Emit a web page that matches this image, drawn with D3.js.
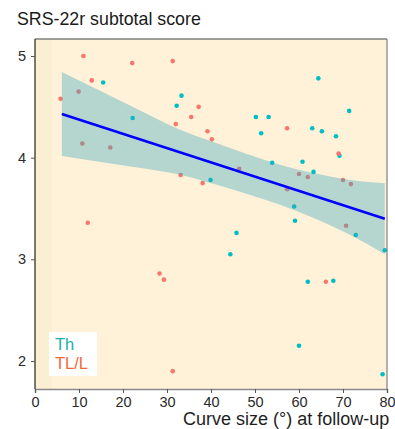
<!DOCTYPE html>
<html>
<head>
<meta charset="utf-8">
<script src="https://cdn.jsdelivr.net/npm/d3@7"></script>
<style>
  html, body { margin: 0; padding: 0; background: #ffffff; }
  svg { display: block; }
  text { font-family: "Liberation Sans", Arial, Helvetica, sans-serif; }
</style>
</head>
<body>
<svg id="chart" width="395" height="429"></svg>
<script>
// ---- data ----
const thX = [15.5, 22.2, 33.3, 32.2, 50.2, 53.1, 51.4, 71.4, 64.4, 63.0, 65.2, 68.4, 69.2, 53.9,
             60.8, 63.3, 39.9, 58.9, 59.1, 72.9, 79.5, 45.8, 44.4, 62.0, 67.8, 60.0, 79.0];
const thY = [4.74, 4.39, 4.61, 4.51, 4.40, 4.40, 4.24, 4.46, 4.78, 4.29, 4.26, 4.21, 4.02, 3.95,
             3.96, 3.86, 3.78, 3.52, 3.38, 3.24, 3.09, 3.26, 3.05, 2.78, 2.79, 2.15, 1.87];
const tlX = [11.0, 22.1, 12.9, 9.9, 5.8, 10.75, 17.1, 31.3, 32.0, 37.2, 35.5, 39.2, 40.2, 46.4, 33.1,
             38.1, 57.3, 69.0, 60.0, 62.0, 70.0, 71.8, 57.3, 70.7, 28.3, 29.3, 66.1, 12.0, 31.3];
const tlY = [5.00, 4.93, 4.76, 4.65, 4.58, 4.14, 4.10, 4.95, 4.33, 4.50, 4.40, 4.26, 4.18, 3.89, 3.83,
             3.75, 4.29, 4.04, 3.84, 3.81, 3.78, 3.74, 3.69, 3.33, 2.86, 2.80, 2.78, 3.36, 1.90];
const fitX = [6.1, 79.5];
const fitY = [4.43, 3.40];
const bandX    = [6.1, 21.6, 33.0, 40.5, 48.2, 55.7, 63.2, 70.9, 79.5];
const bandLow  = [4.017, 3.913, 3.832, 3.743, 3.643, 3.537, 3.410, 3.256, 3.051];
const bandHigh = [4.843, 4.513, 4.274, 4.153, 4.037, 3.931, 3.848, 3.786, 3.749];
const xTicks = [0, 10, 20, 30, 40, 50, 60, 70, 80];
const yTicks = [2, 3, 4, 5];
const stripeEnd = 3.9;
const seriesNames = ["Th", "TL/L"];
const title = "SRS-22r subtotal score";
const xTitle = "Curve size (°) at follow-up";

// ---- layout ----
const svg = d3.select("#chart");
const panel = { left: 35, right: 387, top: 39, bottom: 389 };
const x = d3.scaleLinear().domain([0, 80]).range([panel.left, panel.right]);
const y = d3.scaleLinear().domain([2, 5]).range([361, 56]);

const colTh = "#00bfc4", colTL = "#f8766d";

// panel background
svg.append("rect").attr("x", panel.left).attr("y", panel.top)
  .attr("width", panel.right - panel.left).attr("height", panel.bottom - panel.top)
  .attr("fill", "#fff2d9");
svg.append("rect").attr("x", x(0)).attr("y", panel.top)
  .attr("width", x(stripeEnd) - x(0)).attr("height", panel.bottom - panel.top)
  .attr("fill", "#faeed3");

// points
const g = svg.append("g");
g.selectAll("circle.th").data(thX.map((d, i) => [d, thY[i]])).join("circle")
  .attr("class", "th").attr("cx", d => x(d[0])).attr("cy", d => y(d[1]))
  .attr("r", 2.3).attr("fill", colTh);
g.selectAll("circle.tl").data(tlX.map((d, i) => [d, tlY[i]])).join("circle")
  .attr("class", "tl").attr("cx", d => x(d[0])).attr("cy", d => y(d[1]))
  .attr("r", 2.3).attr("fill", colTL);

// confidence band
const bandData = bandX.map((d, i) => ({ x: d, lo: bandLow[i], hi: bandHigh[i] }));
svg.append("path").datum(bandData)
  .attr("d", d3.area().x(d => x(d.x)).y0(d => y(d.lo)).y1(d => y(d.hi)).curve(d3.curveMonotoneX))
  .attr("fill", "rgb(55,166,190)").attr("fill-opacity", 0.37);

// fit line
svg.append("path").datum(fitX.map((d, i) => [d, fitY[i]]))
  .attr("d", d3.line().x(d => x(d[0])).y(d => y(d[1])))
  .attr("stroke", "#0000ff").attr("stroke-width", 2.6).attr("fill", "none");

// borders
svg.append("line").attr("x1", panel.left).attr("x2", panel.right).attr("y1", panel.top).attr("y2", panel.top)
  .attr("stroke", "#7f7f7f").attr("stroke-width", 1.5);
svg.append("line").attr("x1", panel.right).attr("x2", panel.right).attr("y1", panel.top).attr("y2", panel.bottom)
  .attr("stroke", "#7f7f7f").attr("stroke-width", 1.2);

// axes
const xAxis = svg.append("g").attr("transform", `translate(0,${panel.bottom})`)
  .call(d3.axisBottom(x).tickValues(xTicks).tickSize(4).tickPadding(4).tickFormat(d3.format("d")));
xAxis.select(".domain").attr("stroke", "#8a8a8a").attr("stroke-width", 1.5);
xAxis.selectAll(".tick line").attr("stroke", "#555");
xAxis.selectAll("text").attr("fill", "#2a2a2a").style("font-size", "14.5px");

const yAxis = svg.append("g").attr("transform", `translate(${panel.left},0)`)
  .call(d3.axisLeft(y).tickValues(yTicks).tickSize(4).tickPadding(5).tickFormat(d3.format("d")));
yAxis.select(".domain").attr("d", `M0,${panel.top}V${panel.bottom}`).attr("stroke", "#222").attr("stroke-width", 1.2);
yAxis.selectAll(".tick line").attr("stroke", "#555");
yAxis.selectAll("text").attr("fill", "#2a2a2a").style("font-size", "14.5px");

// titles
svg.append("text").attr("x", 17).attr("y", 25).text(title)
  .attr("fill", "#1a1a1a").style("font-size", "17.8px");
svg.append("text").attr("x", 183).attr("y", 425).text(xTitle)
  .attr("fill", "#1e1e1e").style("font-size", "18px");

// legend
svg.append("rect").attr("x", 49).attr("y", 332).attr("width", 48).attr("height", 44).attr("fill", "#ffffff");
svg.append("text").attr("x", 55).attr("y", 350).text(seriesNames[0])
  .attr("fill", "#1aafa8").style("font-size", "16.5px");
svg.append("text").attr("x", 55).attr("y", 369).text(seriesNames[1])
  .attr("fill", "#f2673a").style("font-size", "16.5px");
</script>
</body>
</html>
